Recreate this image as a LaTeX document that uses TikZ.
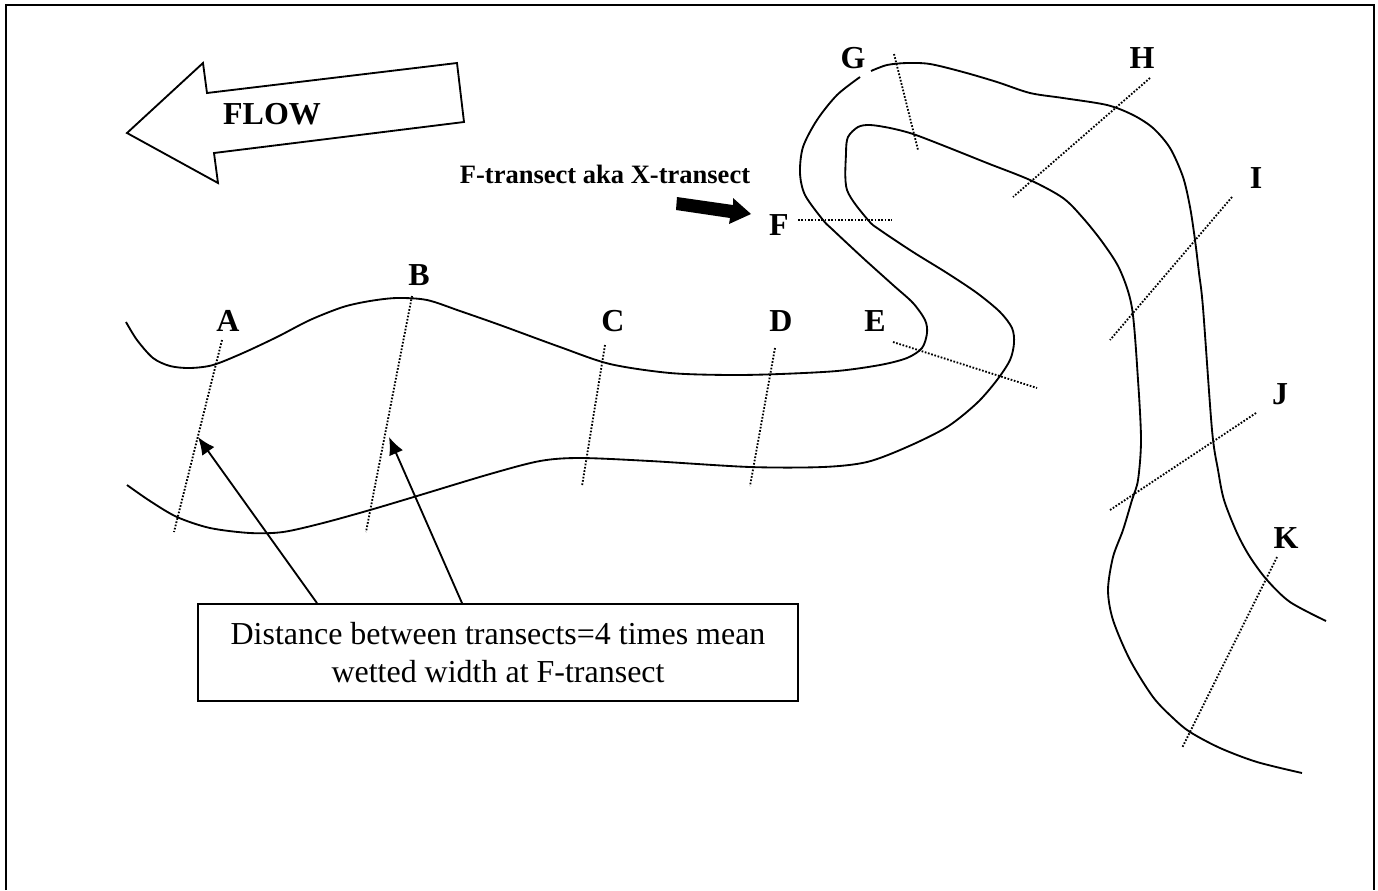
\documentclass[tikz,border=0pt]{standalone}
\usepackage{fontspec}
\setmainfont{Liberation Serif}
\usepackage{tikz}
\usetikzlibrary{arrows,arrows.meta}
\tikzset{%
    >={Latex[length=10pt,width=8.5pt]},
    bank/.style={line width=1.05pt, smooth, tension=0.5},
    transect/.style={line width=1.05pt, dash pattern=on 0.95pt off 0.95pt},
    letter/.style={font=\fontsize{18.2}{21}\selectfont\bfseries, inner sep=0pt}
}

\begin{document}
\begin{tikzpicture}[x=0.02cm, y=-0.02cm, line width=1.05pt]
  \useasboundingbox (0,0) rectangle (1378,890);
  \draw[line width=1.15pt] (6,890) -- (6,5) -- (1374,5) -- (1374,890);

  % flow arrow
  \draw (127,133) -- (203,63) -- (207,93) -- (457,63) -- (464,122) -- (214,153) -- (218,183) -- cycle;
  \node[letter] (flow) at (272,114) {FLOW};

  % pointer to the F-transect
  \node[font=\fontsize{15.1}{18}\selectfont\bfseries, inner sep=0pt] (ftext) at (605,174) {F-transect aka X-transect};
  \fill (677,197) -- (733,205) -- (733,198) -- (751,214) -- (729,224) -- (730,218) -- (676,210) -- cycle;

  % banks
  \draw[bank] plot coordinates {(126,322) (137,340) (153,358) (170,366) (190,368) (213,365) (243,353) (277,337) (310,320) (343,307) (370,301) (397,298) (427,300) (460,311) (500,325) (560,347) (610,364) (670,373) (730,375) (780,374) (837,371) (880,365) (907,358) (922,348) (927,333) (925,320) (913,303) (893,285) (863,258) (833,230) (823,220) (805,195) (800,173) (803,147) (817,120) (837,95) (860,77)};
  \draw[bank] plot coordinates {(871,71) (887,65) (907,63) (930,64) (963,72) (997,82) (1030,93) (1063,98) (1107,105) (1133,115) (1153,128) (1170,148) (1183,177) (1190,207) (1195,240) (1199,273) (1203,308) (1212,430) (1218,470) (1224,500) (1237,533) (1250,557) (1267,580) (1290,602) (1326,621)};
  \draw[bank] plot coordinates {(127,485) (150,501) (177,517) (210,528) (250,533) (283,532) (323,523) (370,510) (417,496) (490,474) (540,461) (580,458) (650,461) (750,467) (823,467) (867,462) (907,447) (947,427) (977,403) (997,380) (1010,360) (1014,343) (1012,328) (1000,312) (977,293) (947,273) (913,252) (880,230) (868,220) (847,190) (846,153) (848,137) (858,127) (870,125) (890,128) (913,134) (947,147) (987,163) (1030,180) (1063,198) (1083,218) (1103,243) (1120,270) (1132,308) (1138,380) (1141,440) (1138,480) (1132,500) (1123,530) (1113,557) (1108,590) (1113,620) (1130,660) (1153,697) (1173,718) (1190,732) (1220,748) (1257,762) (1302,773)};

  % transects
  \draw[transect] (222,340) -- (174,532);
  \draw[transect] (412,296) -- (366,532);
  \draw[transect] (605,345) -- (582,486);
  \draw[transect] (775,348) -- (750,486);
  \draw[transect] (893,342) -- (1037,388);
  \draw[transect] (798,220) -- (892,220);
  \draw[transect] (894,54) -- (918,150);
  \draw[transect] (1150,78) -- (1013,197);
  \draw[transect] (1232,197) -- (1110,340);
  \draw[transect] (1256,413) -- (1110,510);
  \draw[transect] (1277,557) -- (1182,748);

  \node[letter] (labelA) at (228,321) {A};
  \node[letter] (labelB) at (419,275) {B};
  \node[letter] (labelC) at (613,321) {C};
  \node[letter] (labelD) at (781,321) {D};
  \node[letter] (labelE) at (875,321) {E};
  \node[letter] (labelF) at (779,225) {F};
  \node[letter] (labelG) at (853,58) {G};
  \node[letter] (labelH) at (1142,58) {H};
  \node[letter] (labelI) at (1256,178) {I};
  \node[letter] (labelJ) at (1280,394) {J};
  \node[letter] (labelK) at (1286,538) {K};

  % distance box
  \node[draw, minimum width=12cm, minimum height=1.94cm, align=center, inner sep=0pt,
        font=\fontsize{18.2}{21.5}\selectfont] (distbox) at (498,652.5)
        {Distance between transects=4 times mean\\wetted width at F-transect};
  \coordinate (tipA) at (198,437);
  \coordinate (tipB) at (389,437);
  \draw[->] (317,0 |- distbox.north) -- (tipA);
  \draw[->] (462,0 |- distbox.north) -- (tipB);
\end{tikzpicture}
\end{document}
